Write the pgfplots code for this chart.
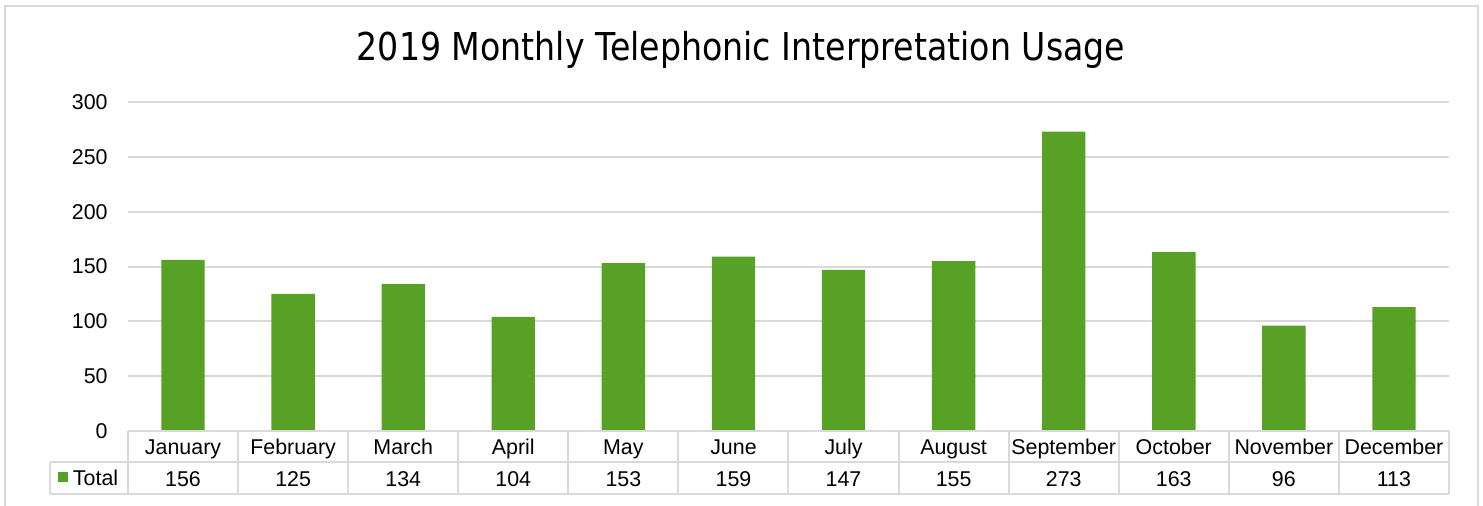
\documentclass[border=0pt]{standalone}
\usepackage{fontspec}
\setmainfont{Liberation Sans}
\newfontfamily\titlefont[FakeStretch=0.865]{DejaVu Sans}
\usepackage{pgfplots}
\usepackage{pgfplotstable}
\pgfplotsset{compat=1.18}
\definecolor{bargreen}{RGB}{87,161,37}
\definecolor{linegray}{RGB}{217,217,217}

% monthly calls
\pgfplotstableread{
idx month total
1 January 156
2 February 125
3 March 134
4 April 104
5 May 153
6 June 159
7 July 147
8 August 155
9 September 273
10 October 163
11 November 96
12 December 113
}\usage

\begin{document}
\begin{tikzpicture}[font=\fontsize{10.7bp}{12.8bp}\selectfont]
\useasboundingbox (0,0) rectangle (741.5bp,-253bp);
\begin{axis}[
  at={(64bp,-215.5bp)}, anchor=south west,
  scale only axis, width=660.5bp, height=164.5bp,
  xmin=0.5, xmax=12.5, ymin=0, ymax=300,
  ytick={0,50,...,300}, xtick={1,...,12},
  xticklabels from table={\usage}{month},
  ymajorgrids, grid style={linegray, line width=1bp},
  axis line style={draw=none}, tick style={draw=none},
  yticklabel style={inner sep=0pt, anchor=east, xshift=-10bp},
  xticklabel style={inner sep=0pt, anchor=base, yshift=-11.5bp},
  /pgf/number format/assume math mode=true,
  clip=false,
  legend style={at={(-0.053,-0.1733)}, anchor=south west, draw=none, fill=none,
    inner sep=0pt, outer sep=0pt, nodes={inner sep=0pt},
    /tikz/every odd column/.style={column sep=2.5bp}},
  legend image code/.code={\fill[bargreen] (0bp,-1.5bp) rectangle (5bp,3.5bp);},
]
\addplot[ybar, bar width=21.7bp, fill=bargreen, draw=none] table[x=idx, y=total] {\usage};
\addlegendentry{Total}
% values row of the data table
\addplot[forget plot, draw=none, mark=none, nodes near coords, point meta=explicit,
  every node near coord/.append style={anchor=base, inner sep=0pt, yshift=-27.5bp}]
  table[x=idx, y expr=0, meta=total] {\usage};
\end{axis}
\begin{scope}[x=0.5bp, y=-0.5bp]
\draw[linegray, line width=1bp] (5,506) -- (5,6) -- (1478,6) -- (1478,506);
\node[anchor=base, font=\titlefont\fontsize{19.2bp}{23bp}\selectfont] at (741,60)
  {2019 Monthly Telephonic Interpretation Usage};
\draw[linegray, line width=1bp] (128,431) -- (1449,431) (50,462) -- (1449,462)
  (50,494) -- (1449,494) (50,462) -- (50,494);
\foreach \i in {0,...,12}
  \draw[linegray, line width=1bp] ({128+110.083*\i},431) -- ({128+110.083*\i},494);
\end{scope}
\end{tikzpicture}
\end{document}
